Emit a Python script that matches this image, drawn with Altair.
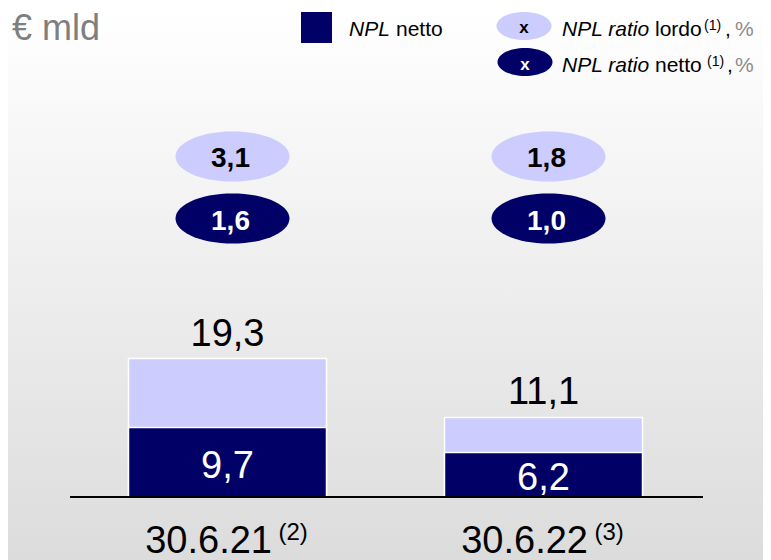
import altair as alt
import pandas as pd
import math

# ---- data ----
dates = ["30.6.21", "30.6.22"]
date_notes = ["(2)", "(3)"]
npl_lordo = [19.3, 11.1]      # total bar height (€ mld)
npl_netto = [9.7, 6.2]        # dark part (€ mld)
ratio_lordo = [3.1, 1.8]      # NPL ratio lordo, %
ratio_netto = [1.6, 1.0]      # NPL ratio netto, %

def it(v):
    return f"{v:.1f}".replace(".", ",")

df = pd.DataFrame({
    "date": dates,
    "note": date_notes,
    "lordo": npl_lordo,
    "netto": npl_netto,
    "zero": [0, 0],
    "half": [v / 2 for v in npl_netto],
    "lordo_lbl": [it(v) for v in npl_lordo],
    "netto_lbl": [it(v) for v in npl_netto],
    "rl_lbl": [it(v) for v in ratio_lordo],
    "rn_lbl": [it(v) for v in ratio_netto],
})

W, H = 755, 552
DARK = "#000066"
LIGHT = "#ccccff"
FONT = "Liberation Sans"

def ellipse_path(ry, n=60):
    pts = []
    for i in range(n):
        a = 2 * math.pi * i / n
        pts.append(f"{math.cos(a):.4f},{ry * math.sin(a):.4f}")
    return "M" + " L".join(pts) + " Z"

ELL = ellipse_path(0.44)
ELL_S = ellipse_path(0.51)

x_enc = alt.X("date:N", sort=None, axis=None,
              scale=alt.Scale(paddingInner=0.3734, paddingOuter=0.3813))
y_scale = alt.Scale(domain=[-8.79, 68.2], nice=False, zero=False)

base = alt.Chart(df)
one = alt.Chart(pd.DataFrame({"k": [0]}))

bg = one.mark_rect(
    color={"gradient": "linear", "x1": 0, "x2": 0, "y1": 0, "y2": 1,
           "stops": [{"offset": 0, "color": "#ffffff"},
                     {"offset": 1, "color": "#dcdcdc"}]}
).encode(x=alt.value(0), x2=alt.value(W), y=alt.value(0), y2=alt.value(H))

bar_l = base.mark_bar(color=LIGHT, stroke="white", strokeWidth=1.5).encode(
    x=x_enc, y=alt.Y("lordo:Q", scale=y_scale, axis=None), y2="zero:Q")
bar_n = base.mark_bar(color=DARK, stroke="white", strokeWidth=1.5).encode(
    x=x_enc, y=alt.Y("netto:Q", scale=y_scale, axis=None), y2="zero:Q")

baseline = base.mark_rule(color="black", strokeWidth=2).encode(
    x=alt.value(62), x2=alt.value(695), y=alt.Y("zero:Q", scale=y_scale, axis=None))

lbl_tot = base.mark_text(font=FONT, fontSize=38, color="black",
                         baseline="alphabetic", dy=-13).encode(
    x=x_enc, y=alt.Y("lordo:Q", scale=y_scale, axis=None), text="lordo_lbl:N")
lbl_net = base.mark_text(
    font=FONT, fontSize=38, color="white", baseline="alphabetic", dy=15.5).encode(
    x=x_enc, y=alt.Y("half:Q", scale=y_scale, axis=None), text="netto_lbl:N")

xl_main = base.mark_text(font=FONT, fontSize=38, color="black", align="right",
                         baseline="alphabetic", dx=44.5).encode(
    x=x_enc, y=alt.value(545), text="date:N")
xl_note = base.mark_text(font=FONT, fontSize=24, color="black", align="left",
                         baseline="alphabetic", dx=51).encode(
    x=x_enc, y=alt.value(532), text="note:N")

ell_l = base.mark_point(shape=ELL, size=114 * 114, filled=True, opacity=1,
                        color=LIGHT, strokeWidth=0, xOffset=5).encode(
    x=x_enc, y=alt.value(148.5))
ell_n = base.mark_point(shape=ELL, size=114 * 114, filled=True, opacity=1,
                        color=DARK, strokeWidth=0, xOffset=5).encode(
    x=x_enc, y=alt.value(210.5))
ell_l_t = base.mark_text(font=FONT, fontSize=28, fontWeight="bold", color="black",
                         baseline="alphabetic", dx=3).encode(
    x=x_enc, y=alt.value(159), text="rl_lbl:N")
ell_n_t = base.mark_text(font=FONT, fontSize=28, fontWeight="bold", color="white",
                         baseline="alphabetic", dx=3).encode(
    x=x_enc, y=alt.value(222), text="rn_lbl:N")

# ---- title ----
title = one.mark_text(text="€ mld", font=FONT, fontSize=36, color="#7f7f7f",
                      align="left", baseline="alphabetic").encode(
    x=alt.value(4), y=alt.value(32))

# ---- legend ----
def txt(s, x, y, size=21, color="black", style="normal", weight="normal", align="left"):
    return one.mark_text(text=s, font=FONT, fontSize=size, color=color, fontStyle=style,
                         fontWeight=weight, align=align, baseline="alphabetic").encode(
        x=alt.value(x), y=alt.value(y))

leg_sq = one.mark_point(shape="square", size=961, filled=True, color=DARK,
                        opacity=1, strokeWidth=0).encode(
    x=alt.value(308.5), y=alt.value(19.5))
leg_e1 = one.mark_point(shape=ELL_S, size=55 * 55, filled=True, opacity=1,
                        color=LIGHT, strokeWidth=0).encode(x=alt.value(516), y=alt.value(18))
leg_e2 = one.mark_point(shape=ELL_S, size=55 * 55, filled=True, opacity=1,
                        color=DARK, strokeWidth=0).encode(x=alt.value(517), y=alt.value(54))

legend = [
    leg_sq, leg_e1, leg_e2,
    txt("NPL", 341, 28, style="italic"),
    txt("netto", 388, 28),
    txt("x", 516, 25, size=17, weight="bold", align="center"),
    txt("x", 517, 62, size=17, weight="bold", color="white", align="center"),
    txt("NPL ratio", 554, 28, style="italic"),
    txt("lordo", 647, 28),
    txt("(1)", 696, 22, size=14),
    txt(",", 717, 28),
    txt("%", 727, 28, color="#8c8c8c"),
    txt("NPL ratio", 554, 64, style="italic"),
    txt("netto", 647, 64),
    txt("(1)", 699, 58, size=14),
    txt(",", 719, 64),
    txt("%", 727, 64, color="#8c8c8c"),
]

chart = alt.layer(
    bg, bar_l, bar_n, baseline, lbl_tot, lbl_net, xl_main, xl_note,
    ell_l, ell_n, ell_l_t, ell_n_t, title, *legend
).properties(
    width=W, height=H, autosize=alt.AutoSizeParams(type="none"), padding=0
).configure_view(stroke=None)

chart.save("out.html", embed_options={"renderer": "svg", "actions": False})
